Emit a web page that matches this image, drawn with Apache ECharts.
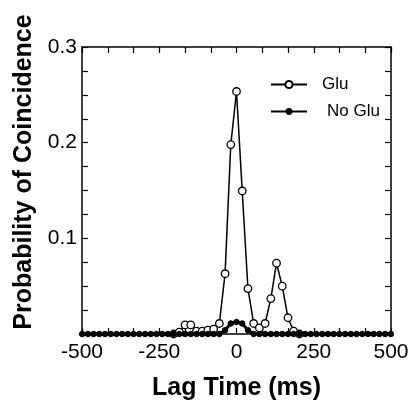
<!DOCTYPE html>
<html>
<head>
<meta charset="utf-8">
<script src="https://cdn.jsdelivr.net/npm/echarts@6/dist/echarts.min.js"></script>
<style>html,body{margin:0;padding:0;background:#fff;}#c{width:413px;height:406px;}</style>
</head>
<body>
<div id="c"></div>
<script>
// Lag time bins (ms)
var lags = [-499.5,-481,-462.5,-444,-425.5,-407,-388.5,-370,-351.5,-333,-314.5,-296,-277.5,-259,-240.5,-222,-203.5,-185,-166.5,-148,-129.5,-111,-92.5,-74,-55.5,-37,-18.5,0,18.5,37,55.5,74,92.5,111,129.5,148,166.5,185,203.5,222,240.5,259,277.5,296,314.5,333,351.5,370,388.5,407,425.5,444,462.5,481,499.5];
// Probability of coincidence, with glutamate (null = hidden under the No Glu baseline)
var glu = [null,null,null,null,null,null,null,null,null,null,null,null,null,null,null,null,0,0.002,0.0095,0.0095,0.003,0.003,0.004,0.005,0.011,0.063,0.198,0.2535,0.1495,0.0475,0.011,0.0064,0.011,0.037,0.074,0.050,0.017,0.003,0,null,null,null,null,null,null,null,null,null,null,null,null,null,null,null,null];
// Probability of coincidence, without glutamate
var noGlu = [0,0,0,0,0,0,0,0,0,0,0,0,0,0,0,0,0,0,0,0,0,0,0,0,0,0.004,0.011,0.0125,0.011,0.004,0,0,0,0,0,0,0,0,0,0,0,0,0,0,0,0,0,0,0,0,0,0,0,0,0];
var xTicks = [-500,-250,0,250,500];
var yTicks = ['', '0.1', '0.2', '0.3'];

function pairs(ys){ return lags.map(function(x,i){ return [x, ys[i] === null ? null : ys[i]]; }); }

var FONT = "'Liberation Sans', Arial, sans-serif";
var chart = echarts.init(document.getElementById('c'), null, {renderer:'canvas'});
var axLine = {show:true, onZero:false, lineStyle:{color:'#000', width:1.5}};
var tick = {show:true, inside:true, length:6, lineStyle:{color:'#000', width:1.2}};
var minor = {show:true, length:6, lineStyle:{color:'#000', width:1.2}};
function xAx(pos, labels){
  return {type:'value', position:pos, min:-500, max:500, interval:250,
    axisLine:axLine, axisTick:tick, minorTick:Object.assign({splitNumber:3}, minor),
    splitLine:{show:false}, minorSplitLine:{show:false},
    axisLabel:{show:labels, color:'#000', fontSize:21, fontFamily:FONT, margin:8,
      formatter:function(v){ var i = xTicks.indexOf(v); return i>=0 ? String(xTicks[i]) : ''; }},
    name: labels ? 'Lag Time (ms)' : '', nameLocation:'middle', nameGap:42,
    nameTextStyle:{color:'#000', fontSize:25, fontWeight:'bold', fontFamily:FONT}};
}
function yAx(pos, labels){
  return {type:'value', position:pos, min:0, max:0.3, interval:0.1,
    axisLine:axLine, axisTick:tick, minorTick:Object.assign({splitNumber:4}, minor),
    splitLine:{show:false}, minorSplitLine:{show:false},
    axisLabel:{show:labels, color:'#000', fontSize:21, fontFamily:FONT, margin:5,
      formatter:function(v){ return yTicks[Math.round(v*10)] || ''; }}};
}
chart.setOption({
  animation:false,
  backgroundColor:'#fff',
  grid:{left:82, right:22, top:47, bottom:68},
  xAxis:[xAx('bottom', true), xAx('top', false)],
  yAxis:[yAx('left', true), yAx('right', false)],
  legend:[
    {data:['Glu'], left:265, top:71, itemWidth:36, itemHeight:9,
     textStyle:{color:'#000', fontSize:17, fontFamily:FONT, padding:[0,0,0,10]}},
    {data:['No Glu'], left:265, top:98, itemWidth:36, itemHeight:6,
     textStyle:{color:'#000', fontSize:17, fontFamily:FONT, padding:[0,0,0,15]}}
  ],
  graphic:[{type:'text', x:24, y:172, rotation:Math.PI/2,
    style:{text:'Probability of Coincidence', fill:'#000', font:'bold 25px ' + FONT, align:'center', verticalAlign:'middle'}}],
  series:[
    {name:'Glu', type:'line', data:pairs(glu), clip:false, symbol:'circle', symbolSize:7.5, showAllSymbol:true,
     connectNulls:false,
     lineStyle:{color:'#000', width:1.5}, itemStyle:{color:'#fff', borderColor:'#000', borderWidth:1.3}, z:3},
    {name:'No Glu', type:'line', data:pairs(noGlu), clip:false, symbol:'circle', symbolSize:5.5, showAllSymbol:true,
     lineStyle:{color:'#000', width:3}, itemStyle:{color:'#000', borderColor:'#000', borderWidth:1}, z:4}
  ]
});
</script>
</body>
</html>
